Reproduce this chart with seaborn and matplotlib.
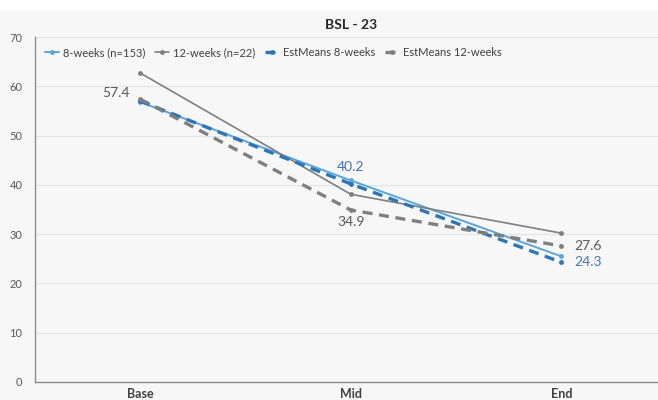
import matplotlib
matplotlib.use("Agg")
import matplotlib.pyplot as plt
import seaborn as sns
import pandas as pd

timepoints = ["Base", "Mid", "End"]
weeks8 = [56.8, 40.9, 25.5]
weeks12 = [62.7, 38.1, 30.2]
est8 = [57.0, 40.2, 24.3]
est12 = [57.4, 34.9, 27.6]

series_names = ["8-weeks (n=153)", "12-weeks (n=22)", "EstMeans 8-weeks", "EstMeans 12-weeks"]
series_values = [weeks8, weeks12, est8, est12]
colors = ["#5aa5dc", "#7f7f7f", "#2e75b6", "#7f7f7f"]
widths = [1.4, 1.2, 2.4, 2.4]
styles = ["-", "-", (0, (3, 2)), (0, (3, 2))]

sns.set_style("white")
plt.rcParams["font.family"] = ["Lato", "DejaVu Sans"]

fig = plt.figure(figsize = (6.58, 4.0), dpi = 100, facecolor = "#f7f7f7")
ax = fig.add_axes([0.053, 0.045, 0.96, 0.8625])
ax.set_facecolor("#f7f7f7")

pos = list(range(len(timepoints)))
for i in range(len(series_names)):
    df = pd.DataFrame({"x": pos, "y": series_values[i]})
    sns.lineplot(data = df, x = "x", y = "y", ax = ax, color = colors[i], linewidth = widths[i],
                 linestyle = styles[i], marker = "o", markersize = 3.5, markeredgewidth = 0,
                 label = series_names[i])

# value labels
lab_grey = "#595959"
lab_blue = "#4472c4"
ax.text(pos[0] - 0.05, est12[0] + 0.0, "57.4", color = lab_grey, fontsize = 10, ha = "right", va = "bottom")
ax.text(pos[1], est8[1] + 2.2, "40.2", color = lab_blue, fontsize = 10, ha = "center", va = "bottom")
ax.text(pos[1], est12[1] - 1.2, "34.9", color = lab_grey, fontsize = 10, ha = "center", va = "top")
ax.text(pos[2] + 0.06, est12[2], "27.6", color = lab_grey, fontsize = 10, ha = "left", va = "center")
ax.text(pos[2] + 0.06, est8[2], "24.3", color = lab_blue, fontsize = 10, ha = "left", va = "center")

ax.set_xlim(-0.5, 2.5)
ax.set_ylim(0, 70)
ax.set_yticks(range(0, 80, 10))
ax.set_xticks(pos)
ax.set_xticklabels(timepoints, fontweight = "bold", fontsize = 9, color = "#404040")
ax.tick_params(axis = "y", labelsize = 8, colors = "#595959", length = 0, pad = 9)
ax.tick_params(axis = "x", length = 0, pad = 4)
ax.set_xlabel("")
ax.set_ylabel("")
ax.grid(axis = "y", color = "#e4e4e4", linewidth = 0.8)
ax.set_axisbelow(True)
for side in ["top", "right"]:
    ax.spines[side].set_visible(False)
for side in ["left", "bottom"]:
    ax.spines[side].set_color("#8c8c8c")
    ax.spines[side].set_linewidth(1.0)

ax.set_title("BSL - 23", fontsize = 10, fontweight = "bold", color = "#262626", pad = 6)
ax.legend(loc = "upper left", ncol = 4, frameon = False, fontsize = 8, handlelength = 1.3,
          handletextpad = 0.3, columnspacing = 0.9, bbox_to_anchor = (0.0, 1.0), labelcolor = "#404040")

fig.patches.append(plt.Rectangle((0, 0.975), 1, 0.025, transform = fig.transFigure, color = "white", zorder = -1))

plt.savefig("out.png", dpi = 100, facecolor = fig.get_facecolor())
